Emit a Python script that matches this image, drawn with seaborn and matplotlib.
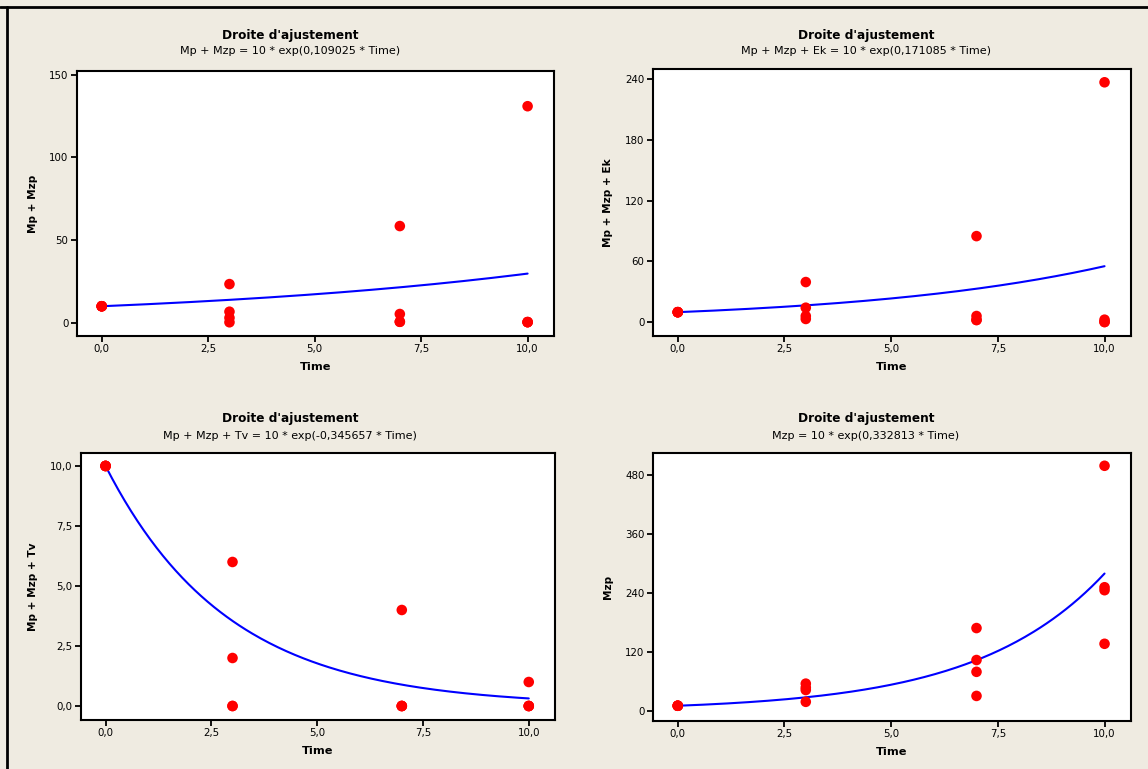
import numpy as np
import pandas as pd
import matplotlib
matplotlib.use("Agg")
import matplotlib.pyplot as plt
from matplotlib.lines import Line2D
from matplotlib.ticker import FuncFormatter
import seaborn as sns

# ---- data -------------------------------------------------------------
time = [0, 0, 0, 0, 3, 3, 3, 3, 7, 7, 7, 7, 10, 10, 10, 10]

mp_mzp = [10, 10, 10, 10, 23.4, 6.7, 3.0, 0.3, 58.5, 5.3, 0.6, 0.6, 131, 0.4, 0.4, 0.4]
mp_mzp_ek = [10, 10, 10, 10, 39.7, 14.4, 6.2, 3.3, 85, 6.2, 2.3, 2.3, 236.7, 2.6, 0.3, 0.3]
mp_mzp_tv = [10, 10, 10, 10, 6, 2, 0, 0, 4, 0, 0, 0, 1, 0, 0, 0]
mzp = [10, 10, 10, 10, 55, 47, 42, 18, 168, 103, 79, 30, 498, 251, 245, 136]

# fitted models: y = a * exp(b * Time)
fit_a = 10
fit_b = [0.109025, 0.171085, -0.345657, 0.332813]
coef_text = ["0,109025", "0,171085", "-0,345657", "0,332813"]

responses = ["Mp + Mzp", "Mp + Mzp + Ek", "Mp + Mzp + Tv", "Mzp"]
series = [mp_mzp, mp_mzp_ek, mp_mzp_tv, mzp]

x_ticks = [0, 2.5, 5, 7.5, 10]
y_ticks = [[0, 50, 100, 150], [0, 60, 120, 180, 240],
           [0, 2.5, 5, 7.5, 10], [0, 120, 240, 360, 480]]
y_decimals = [False, False, True, False]

# ---- layout (pixels) ---------------------------------------------------
W, H = 1148, 769
BG = "#EFEBE1"
panels_px = [  # left, right, top, bottom
    (77, 554, 71, 336),
    (653, 1131, 69, 336),
    (81, 555, 453, 720),
    (653, 1131, 453, 721),
]
ylims = [(-8.0, 152.3), (-13.5, 249.8), (-0.583, 10.54), (-21, 524)]
xlim = (-0.58, 10.62)
title_y = [(35, 51), (35, 51), (419, 436), (419, 436)]
title_x = [290, 866, 290, 866]
ylabel_x = [33, 608, 33, 608]

sns.set_theme(style="ticks")
plt.rcParams["font.family"] = ["DejaVu Sans"]
plt.rcParams.update({"text.color": "black", "axes.labelcolor": "black",
                     "xtick.color": "black", "ytick.color": "black"})

fig = plt.figure(figsize=(W / 100, H / 100), dpi=100, facecolor=BG)


def comma_fmt(decimals):
    if decimals:
        return FuncFormatter(lambda v, p: f"{v:.1f}".replace(".", ","))
    return FuncFormatter(lambda v, p: f"{v:.0f}")


for i in range(4):
    l, r, t, b = panels_px[i]
    ax = fig.add_axes([l / W, 1 - b / H, (r - l) / W, (b - t) / H])
    ax.set_facecolor("white")

    df = pd.DataFrame({"Time": time, "y": series[i]})
    tgrid = np.linspace(0, 10, 200)
    fit = pd.DataFrame({"Time": tgrid, "y": fit_a * np.exp(fit_b[i] * tgrid)})

    sns.lineplot(data=fit, x="Time", y="y", color="#0000FF", lw=1.5, ax=ax, zorder=2)
    sns.scatterplot(data=df, x="Time", y="y", color="#FF0000", s=58,
                    edgecolor="none", linewidth=0, ax=ax, zorder=3)

    ax.set_xlim(*xlim)
    ax.set_ylim(*ylims[i])
    ax.set_xticks(x_ticks)
    ax.set_yticks(y_ticks[i])
    ax.xaxis.set_major_formatter(comma_fmt(True))
    ax.yaxis.set_major_formatter(comma_fmt(y_decimals[i]))

    for s in ax.spines.values():
        s.set_visible(True)
        s.set_linewidth(1.5)
        s.set_color("black")
    ax.tick_params(direction="out", length=4.3, width=1.3, colors="black",
                   labelcolor="black", labelsize=7.4, pad=1.8)

    ax.set_xlabel("")
    ax.set_ylabel("")

    # axis labels
    fig.text(((l + r) / 2) / W, 1 - (b + 31) / H, "Time", ha="center", va="center",
             fontsize=8.2, fontweight="bold", color="black")
    fig.text(ylabel_x[i] / W, 1 - ((t + b) / 2) / H, responses[i], ha="center",
             va="center", rotation=90, fontsize=7.6, fontweight="bold", color="black")

    # titles
    ty1, ty2 = title_y[i]
    fig.text(title_x[i] / W, 1 - ty1 / H, "Droite d'ajustement", ha="center",
             va="center", fontsize=8.7, fontweight="bold", color="black")
    fig.text(title_x[i] / W, 1 - ty2 / H,
             f"{responses[i]} = {fit_a} * exp({coef_text[i]} * Time)",
             ha="center", va="center", fontsize=8.0, color="black")

# window frame edges
fig.add_artist(Line2D([0, 1], [1 - 7 / H, 1 - 7 / H], color="black", lw=2.0,
                      transform=fig.transFigure))
fig.add_artist(Line2D([7 / W, 7 / W], [0, 1 - 7 / H], color="black", lw=2.0,
                      transform=fig.transFigure))

fig.savefig("out.png", dpi=100, facecolor=BG)
